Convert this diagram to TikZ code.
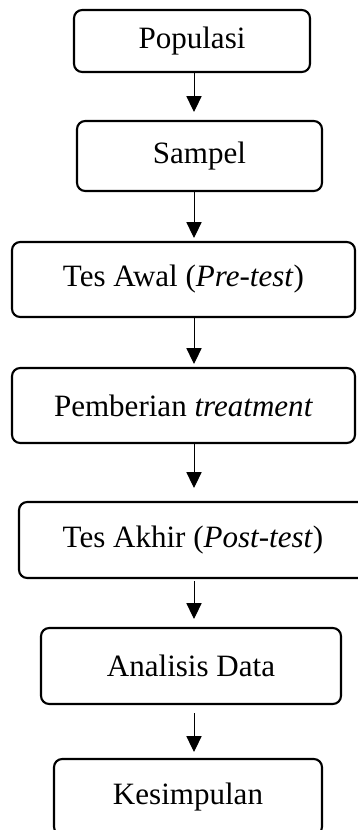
\documentclass[tikz,border=0pt]{standalone}
\usepackage{fontspec}
\setmainfont{Liberation Serif}
\usetikzlibrary{arrows.meta,positioning}

\begin{document}
\begin{tikzpicture}[x=0.03cm,y=-0.03cm,
  box/.style={draw,rounded corners=7pt,line width=1.8pt,font=\fontsize{26.5}{30}\selectfont,align=center,inner sep=0pt},
  arr/.style={-{Triangle[length=13.5pt,width=13pt]},line width=0.85pt}]
  \useasboundingbox (0,0) rectangle (357,830);
  % Steps
  \node[box,minimum width=7.08cm,minimum height=1.86cm] (pop) at (192,41) {Populasi};
  \node[box,minimum width=7.35cm,minimum height=2.1cm] (smp) at (199.5,156) {Sampel};
  \node[box,minimum width=10.29cm,minimum height=2.25cm] (pre) at (183.5,279.5) {Tes Awal (\textit{Pre-test})};
  \node[box,minimum width=10.29cm,minimum height=2.25cm] (trt) at (183.5,405.5) {Pemberian \textit{treatment}};
  \node[box,minimum width=10.44cm,minimum height=2.28cm] (post) at (193,540) {Tes Akhir (\textit{Post-test})};
  \node[box,minimum width=9cm,minimum height=2.28cm] (ana) at (191,666) {Analisis Data};
  \node[box,minimum width=8.04cm,minimum height=2.28cm] (kes) at (188,797) {Kesimpulan};
  % Arrows
  \coordinate (ax) at (194,0);
  \draw[arr,shorten >=0.24cm] (pop.south -| ax) -- (smp.north -| ax);
  \draw[arr,shorten >=0.09cm] (smp.south -| ax) -- (pre.north -| ax);
  \draw[arr,shorten >=0.09cm] (pre.south -| ax) -- (trt.north -| ax);
  \draw[arr,shorten >=0.39cm] (trt.south -| ax) -- (post.north -| ax);
  \draw[arr,shorten <=0.06cm,shorten >=0.24cm] (post.south -| ax) -- (ana.north -| ax);
  \draw[arr,shorten <=0.24cm,shorten >=0.18cm] (ana.south -| ax) -- (kes.north -| ax);
\end{tikzpicture}
\end{document}
